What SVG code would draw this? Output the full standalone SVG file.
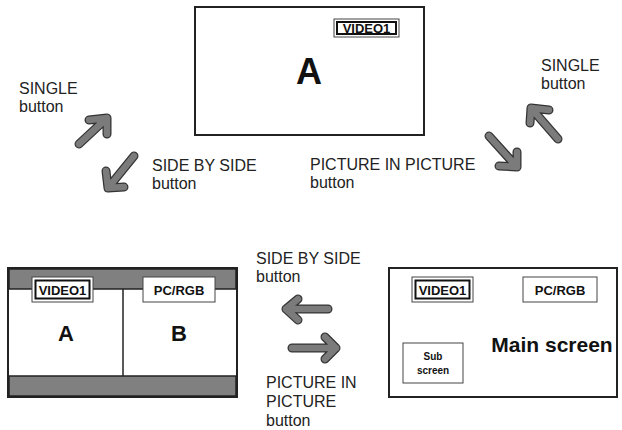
<svg xmlns="http://www.w3.org/2000/svg" width="622" height="430" viewBox="0 0 622 430">
<style>
.t{font-family:"Liberation Sans",Arial,sans-serif;font-size:16px;fill:#222}
.b{font-family:"Liberation Sans",Arial,sans-serif;font-weight:bold;fill:#111;text-anchor:middle}
.scr{fill:#fff;stroke:#222;stroke-width:2}
.band{fill:#808080;stroke:#222;stroke-width:1.5}
.lo{fill:#fff;stroke:#444;stroke-width:1}
.li{fill:#fff;stroke:#111;stroke-width:2}
.ao{fill:none;stroke:#333;stroke-width:9;stroke-linecap:round;stroke-linejoin:round}
.ai{fill:none;stroke:#7b7b7b;stroke-width:6.5;stroke-linecap:round;stroke-linejoin:round}
</style>
<defs>
<g id="v1s">
<rect class="lo" x="0" y="0" width="65" height="18"/>
<rect class="li" x="3" y="3" width="59" height="12"/>
<text class="b" x="32.5" y="14" font-size="13">VIDEO1</text>
</g>
<g id="v1t">
<rect class="lo" x="0" y="0" width="61" height="25"/>
<rect class="li" x="3.5" y="3.5" width="54" height="18"/>
<text class="b" x="30.5" y="17.5" font-size="13">VIDEO1</text>
</g>
</defs>

<g id="single-screen">
<rect class="scr" x="195" y="7" width="229" height="128"/>
<use href="#v1s" x="334" y="19"/>
<text class="b" x="309" y="84" font-size="36">A</text>
</g>

<g id="side-by-side-screen">
<rect class="scr" x="8" y="268" width="229" height="129"/>
<rect class="band" x="9" y="269" width="227" height="20"/>
<rect class="band" x="9" y="376" width="227" height="20"/>
<line x1="123" y1="289" x2="123" y2="376" stroke="#222" stroke-width="1.5"/>
<use href="#v1t" x="32" y="277"/>
<rect class="lo" x="143" y="277" width="72" height="25"/>
<text class="b" x="179" y="294.5" font-size="13">PC/RGB</text>
<text class="b" x="66" y="341" font-size="22">A</text>
<text class="b" x="179" y="341" font-size="22">B</text>
</g>

<g id="pip-screen">
<rect class="scr" x="389" y="268" width="228" height="129"/>
<use href="#v1t" x="412" y="277"/>
<rect class="lo" x="523" y="277" width="74" height="25"/>
<text class="b" x="560" y="294.5" font-size="13">PC/RGB</text>
<rect class="lo" x="403" y="343" width="60" height="40"/>
<text class="b" x="433" y="360" font-size="10">Sub</text>
<text class="b" x="433" y="374" font-size="10">screen</text>
<text class="b" x="552" y="352" font-size="21">Main screen</text>
</g>

<g id="connectors">
<path class="ao" d="M79 144L107 118M89 120L107 118L107 134"/>
<path class="ai" d="M79 144L107 118M89 120L107 118L107 134"/>
<path class="ao" d="M134 156L108 188M106 171L108 188L124 187"/>
<path class="ai" d="M134 156L108 188M106 171L108 188L124 187"/>
<path class="ao" d="M558 139L531 108M549 110L531 108L530 123"/>
<path class="ai" d="M558 139L531 108M549 110L531 108L530 123"/>
<path class="ao" d="M489 136L517 167M517 152L517 167L499 166"/>
<path class="ai" d="M489 136L517 167M517 152L517 167L499 166"/>
<path class="ao" d="M328 309L286 309M298 299L286 309L298 320"/>
<path class="ai" d="M328 309L286 309M298 299L286 309L298 320"/>
<path class="ao" d="M292 348L336 348M325 337L336 348L325 359"/>
<path class="ai" d="M292 348L336 348M325 337L336 348L325 359"/>
</g>

<g id="labels">
<text class="t" x="19" y="94">SINGLE</text>
<text class="t" x="19" y="112">button</text>
<text class="t" x="152" y="171">SIDE BY SIDE</text>
<text class="t" x="152" y="189">button</text>
<text class="t" x="310" y="170">PICTURE IN PICTURE</text>
<text class="t" x="310" y="188">button</text>
<text class="t" x="541" y="71">SINGLE</text>
<text class="t" x="541" y="89">button</text>
<text class="t" x="256" y="264">SIDE BY SIDE</text>
<text class="t" x="256" y="282">button</text>
<text class="t" x="266" y="388">PICTURE IN</text>
<text class="t" x="266" y="407">PICTURE</text>
<text class="t" x="266" y="426">button</text>
</g>
</svg>
